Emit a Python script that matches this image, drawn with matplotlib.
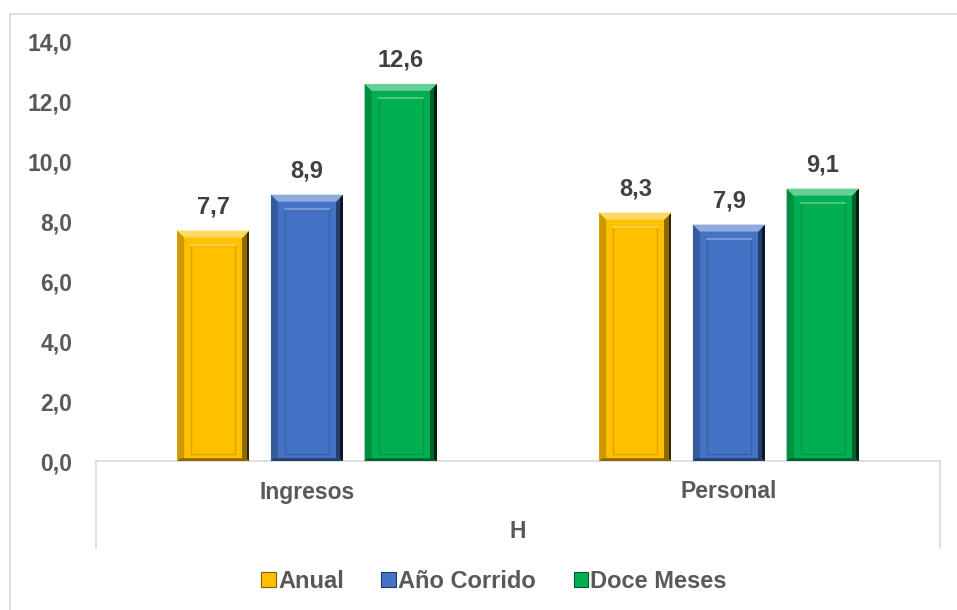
import matplotlib
matplotlib.use("Agg")
import matplotlib.pyplot as plt
from matplotlib.patches import Polygon, Rectangle, Patch
from matplotlib.lines import Line2D
from matplotlib.colors import to_rgb
import numpy as np

# Datos del gráfico
categorias = ["Ingresos", "Personal"]
grupo = "H"
series = ["Anual", "Año Corrido", "Doce Meses"]
anual = [7.7, 8.3]
ano_corrido = [8.9, 7.9]
doce_meses = [12.6, 9.1]
yticks = [0, 2, 4, 6, 8, 10, 12, 14]

colores = ["#FFC000", "#4472C4", "#00B050"]
GRIS_TXT = "#595959"
GRIS_VAL = "#404040"
GRIS_LIN = "#D9D9D9"

plt.rcParams["font.family"] = ["Liberation Sans", "DejaVu Sans"]
plt.rcParams["font.weight"] = "bold"

W, H = 957, 610


def mezcla(c, otro, t):
    return tuple((1 - t) * a + t * b for a, b in zip(to_rgb(c), to_rgb(otro)))


def biselar(ax, b, col, bx, by):
    """Dibuja el efecto de bisel sobre una barra."""
    x0, y0 = b.get_x(), b.get_y()
    x1, y1 = x0 + b.get_width(), y0 + b.get_height()
    z = 3
    piezas = [
        ([(x0, y1), (x0 + bx, y1 - by), (x0 + bx, y0), (x0, y0)], mezcla(col, "black", 0.2)),
        ([(x1, y1), (x1, y0), (x1 - bx, y0), (x1 - bx, y1 - by)], mezcla(col, "black", 0.45)),
        ([(x1, y1), (x1, y0), (x1 - bx * 0.4, y0), (x1 - bx * 0.4, y1 - by * 0.4)],
         mezcla(col, "black", 0.8)),
        ([(x0, y1), (x1, y1), (x1 - bx, y1 - by), (x0 + bx, y1 - by)], mezcla(col, "white", 0.4)),
        ([(x0, y0), (x1, y0), (x1 - bx * 0.4, y0 + by * 0.4), (x0 + bx * 0.4, y0 + by * 0.4)],
         mezcla(col, "black", 0.45)),
    ]
    for pts, c in piezas:
        ax.add_patch(Polygon(pts, closed=True, facecolor=c, edgecolor="none", zorder=z))
    ax.add_patch(Rectangle((x0 + 2 * bx, y0 + by), (x1 - x0) - 4 * bx, (y1 - y0) - 3 * by,
                           fill=False, edgecolor=mezcla(col, "black", 0.15), lw=1.0, zorder=z))
    ax.plot([x0 + 2 * bx, x1 - 2 * bx], [y1 - 2 * by] * 2, color=mezcla(col, "white", 0.35),
            lw=1.2, zorder=z + 0.1)


fig = plt.figure(figsize=(W / 100, H / 100), dpi=100)
ax = fig.add_axes([96 / W, 1 - 461 / H, 844 / W, 419 / H])
ax.set_xlim(-0.5, 1.5)
ax.set_ylim(0, 14)

x = np.arange(len(categorias))
ancho = 0.171
desp = [-0.222, 0.0, 0.222]
bx = 7 / 422
by = 7 / (419 / 14)

for i, (vals, col, nom) in enumerate(zip([anual, ano_corrido, doce_meses], colores, series)):
    barras = ax.bar(x + desp[i], vals, width=ancho, color=col, zorder=2, label=nom)
    for b, v in zip(barras, vals):
        biselar(ax, b, col, bx, by)
        ax.annotate(f"{v:.1f}".replace(".", ","), (b.get_x() + b.get_width() / 2, v),
                    xytext=(0, 9), textcoords="offset points", ha="center", va="bottom",
                    fontsize=17, color=GRIS_VAL, fontweight="bold")

# Ejes
ax.set_yticks(yticks)
ax.set_yticklabels([f"{t:.1f}".replace(".", ",") for t in yticks], fontsize=16.5,
                   color=GRIS_TXT, fontweight="bold")
ax.tick_params(axis="y", length=0, pad=17)
ax.set_xticks([])
for s in ["left", "right", "top"]:
    ax.spines[s].set_visible(False)
ax.spines["bottom"].set_color(GRIS_LIN)
ax.spines["bottom"].set_linewidth(1.2)

# Eje de categorías multinivel
tr = ax.get_xaxis_transform()
for xi, cat in zip(x, categorias):
    ax.text(xi, -31 / 419, cat, transform=tr, ha="center", va="center",
            fontsize=16.5, color=GRIS_TXT, fontweight="bold", clip_on=False)
ax.text(x.mean(), -71 / 419, grupo, transform=tr, ha="center", va="center",
        fontsize=16.5, color=GRIS_TXT, fontweight="bold", clip_on=False)
for xl in ax.get_xlim():
    ax.plot([xl, xl], [0, -87 / 419], transform=tr, color=GRIS_LIN, lw=1.2, clip_on=False)

# Leyenda
manejadores = [Patch(facecolor=c, edgecolor=mezcla(c, "black", 0.5), lw=0.8) for c in colores]
leg = fig.legend(manejadores, series, loc="center", bbox_to_anchor=(494 / W, 1 - 581 / H),
                 ncol=3, frameon=False, fontsize=17, handlelength=0.6, handleheight=0.6,
                 handletextpad=0.1, columnspacing=1.6)
for t in leg.get_texts():
    t.set_color(GRIS_TXT)

# Marco de la figura (solo arriba e izquierda visibles)
fig.add_artist(Line2D([10 / W, 1], [1 - 14 / H] * 2, color=GRIS_LIN, lw=1.2))
fig.add_artist(Line2D([10 / W] * 2, [0, 1 - 14 / H], color=GRIS_LIN, lw=1.2))

fig.savefig("out.png", dpi=100)
